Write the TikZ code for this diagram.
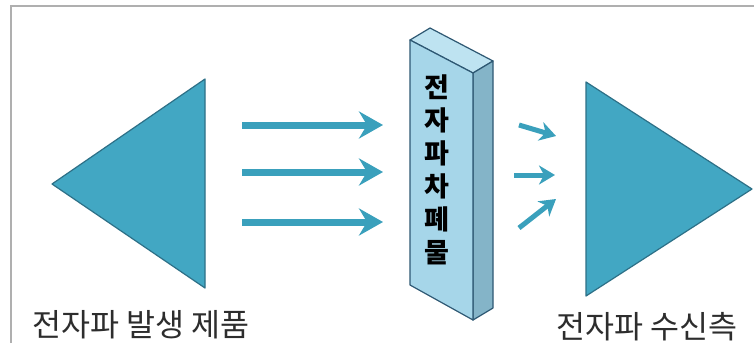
\documentclass[tikz,border=0pt]{standalone}
\usepackage{fontspec}
\newfontfamily\cjk{Noto Sans CJK KR}
\usetikzlibrary{arrows.meta}
\definecolor{tealfill}{RGB}{66,167,195}
\definecolor{tealline}{RGB}{45,112,135}
\definecolor{arrowcol}{RGB}{58,160,188}
\definecolor{frontc}{RGB}{166,214,233}
\definecolor{topc}{RGB}{190,227,241}
\definecolor{sidec}{RGB}{132,180,200}
\definecolor{panelline}{RGB}{46,88,115}
\definecolor{labelc}{RGB}{45,45,45}
\definecolor{framec}{RGB}{175,175,175}
\tikzset{
  tri/.style={fill=tealfill,draw=tealline,line width=1.2pt,line join=round},
  face/.style={draw=panelline,line width=1.2pt,line join=round},
  bigarrow/.style={draw=arrowcol,line width=7pt,-{Stealth[length=24pt,width=27pt,inset=8pt]}},
  smallarrow/.style={draw=arrowcol,line width=5pt,-{Stealth[length=16pt,width=19pt,inset=5pt]}},
  lbl/.style={font=\cjk\fontsize{31.5}{31.5}\selectfont,text=labelc,inner sep=0pt},
  paneltext/.style={font=\cjk\bfseries\fontsize{27}{33}\selectfont,align=center,inner sep=0pt}
}
\begin{document}
\begin{tikzpicture}[x=1pt,y=-1pt]
\useasboundingbox (0,0) rectangle (754,343);
\fill[white] (0,0) rectangle (754,343);
\draw[framec,line width=1.5pt] (11,343) -- (11,6) -- (754,6);
% triangles
\draw[tri] (52,184) -- (205,79) -- (205,288) -- cycle;
\draw[tri] (586,82) -- (752,189) -- (586,296) -- cycle;
% panel
\draw[face,fill=topc] (410,40) -- (430,28) -- (493,61) -- (473,73) -- cycle;
\draw[face,fill=sidec] (473,73) -- (493,61) -- (493,308) -- (473,320) -- cycle;
\draw[face,fill=frontc] (410,40) -- (473,73) -- (473,320) -- (410,285) -- cycle;
\node[paneltext] (panel) at (437,170) {전\\자\\파\\차\\폐\\물};
% left arrows
\coordinate (a1s) at (242,125); \coordinate (a1e) at (383,125);
\coordinate (a2s) at (242,172); \coordinate (a2e) at (383,172);
\coordinate (a3s) at (242,222); \coordinate (a3e) at (383,222);
\draw[bigarrow] (a1s) -- (a1e);
\draw[bigarrow] (a2s) -- (a2e);
\draw[bigarrow] (a3s) -- (a3e);
% right arrows
\coordinate (b1s) at (519,125); \coordinate (b1e) at (556,136);
\coordinate (b2s) at (514,175); \coordinate (b2e) at (555,175);
\coordinate (b3s) at (519,228); \coordinate (b3e) at (556,199);
\draw[smallarrow] (b1s) -- (b1e);
\draw[smallarrow] (b2s) -- (b2e);
\draw[smallarrow] (b3s) -- (b3e);
% labels
\node[lbl] (src) at (141,325) {전자파 발생 제품};
\node[lbl] (rcv) at (647,327) {전자파 수신측};
\end{tikzpicture}
\end{document}
